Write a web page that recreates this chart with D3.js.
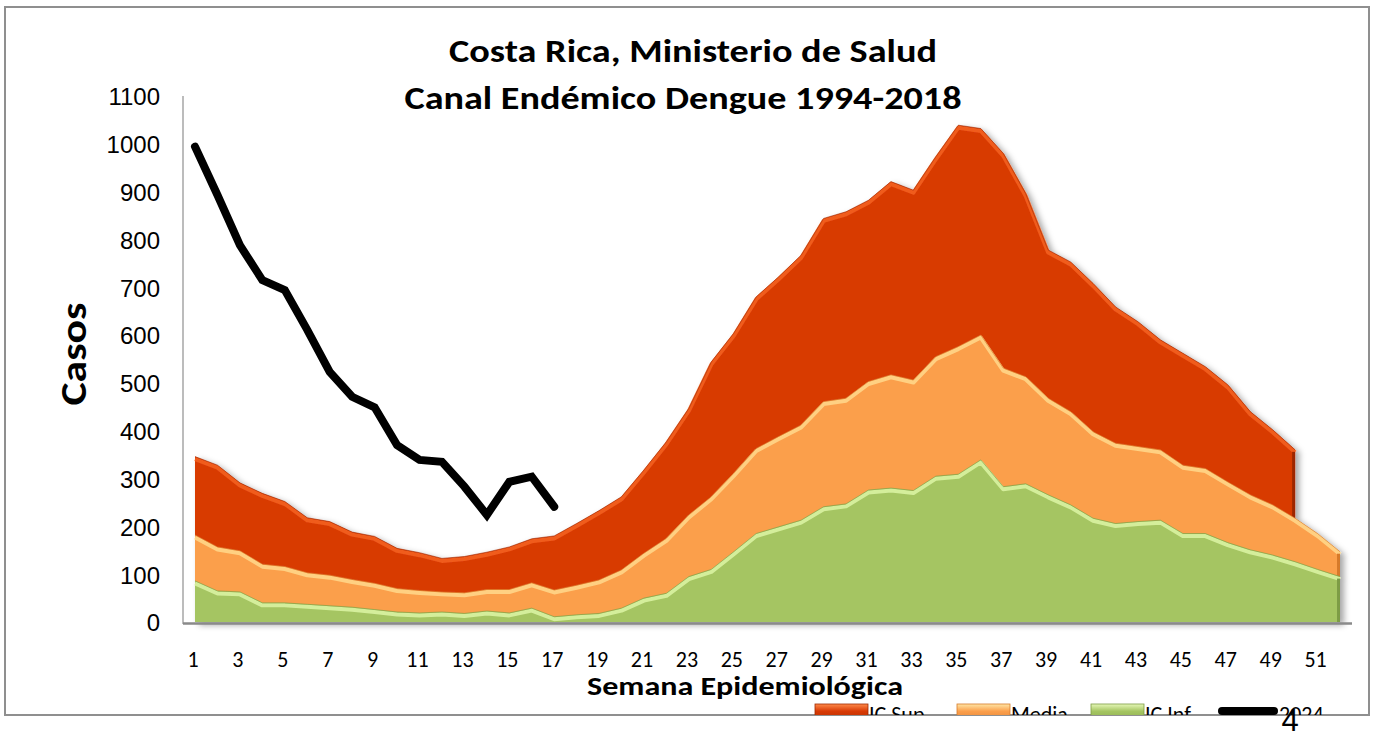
<!DOCTYPE html>
<meta charset="utf-8">
<head>
<title>Canal Endémico Dengue</title>
<script src="https://d3js.org/d3.v7.min.js"></script>
<style>
  body { margin: 0; background: #ffffff; }
  svg text { font-family: Carlito, Calibri, Lato, sans-serif; fill: #000; }
  .ytick { font-family: "Liberation Sans", Arial, sans-serif; font-size: 24px; }
</style>
</head>
<body>
<svg id="chart" width="1375" height="731"></svg>
<script>
// semanas epidemiologicas
var weeks = d3.range(1, 53);
var xLabels = d3.range(1, 52, 2);
var yTicks = d3.range(0, 1101, 100);

// canal endemico 1994-2018
var icSup = [346, 328, 291, 269, 252, 218, 210, 188, 179, 154, 145, 133, 137, 146, 157, 174, 180, 206, 233, 262,
             318, 377, 447, 544, 604, 680, 722, 767, 844, 858, 882, 921, 903, 973, 1039, 1032, 980, 896, 778, 753,
             708, 659, 628, 590, 562, 534, 496, 440, 402, 360];
var media = [182, 157, 149, 121, 116, 103, 98, 89, 81, 70, 66, 63, 61, 68, 68, 82, 67, 77, 88, 109,
             144, 175, 224, 262, 311, 363, 388, 412, 461, 468, 503, 517, 506, 555, 576, 600, 531, 513, 468, 440,
             398, 374, 367, 360, 328, 321, 293, 266, 245, 217, 185, 147];
var icInf = [86, 65, 63, 40, 40, 37, 34, 31, 26, 21, 19, 21, 18, 23, 19, 29, 11, 15, 18, 29,
             50, 60, 95, 110, 147, 185, 199, 213, 241, 247, 276, 280, 275, 305, 309, 339, 283, 289, 266, 245,
             217, 206, 210, 213, 185, 185, 166, 151, 140, 126, 110, 95];
// casos 2024
var casos2024 = [994, 893, 788, 715, 694, 611, 523, 471, 449, 370, 339, 335, 283, 224, 293, 304, 241];

var series = [
  {name: "IC Sup", values: icSup, fill: "#d83a05", light: "#f5611f", dark: "#9e2802", top: "#ff8a4a", bot: "#b83000"},
  {name: "Media", values: media, fill: "#fb9f4b", light: "#ffd88c", dark: "#d67a2a", top: "#ffe6a6", bot: "#e8883a"},
  {name: "IC Inf", values: icInf, fill: "#a5c562", light: "#dcf4a6", dark: "#7d9c44", top: "#e6f8b8", bot: "#8fb050"}
];

var svg = d3.select("#chart");

var x = d3.scaleLinear().domain([1, 52]).range([195, 1340]);
var y = d3.scaleLinear().domain([0, 1100]).range([622, 96]);

var defs = svg.append("defs");
var shadow = defs.append("filter").attr("id", "sombra")
  .attr("x", "-5%").attr("y", "-5%").attr("width", "115%").attr("height", "115%");
shadow.append("feDropShadow").attr("dx", 4).attr("dy", 3).attr("stdDeviation", 3)
  .attr("flood-color", "#000").attr("flood-opacity", 0.35);

defs.append("clipPath").attr("id", "marco")
  .append("rect").attr("x", 0).attr("y", 0).attr("width", 1369).attr("height", 715);

series.forEach(function(s, i) {
  var g = defs.append("linearGradient").attr("id", "grad" + i)
    .attr("x1", 0).attr("y1", 0).attr("x2", 0).attr("y2", 1);
  g.append("stop").attr("offset", "0%").attr("stop-color", s.top);
  g.append("stop").attr("offset", "45%").attr("stop-color", s.fill);
  g.append("stop").attr("offset", "100%").attr("stop-color", s.bot);
});

// marco
svg.append("rect")
  .attr("x", 5).attr("y", 7).attr("width", 1364).attr("height", 708)
  .attr("fill", "none").attr("stroke", "#8f8f8f").attr("stroke-width", 2);

// titulo
svg.append("text").attr("x", 693).attr("y", 62).attr("text-anchor", "middle")
  .attr("textLength", 488).attr("lengthAdjust", "spacingAndGlyphs")
  .style("font-size", "33px").style("font-weight", "bold")
  .text("Costa Rica, Ministerio de Salud");
svg.append("text").attr("x", 683).attr("y", 109).attr("text-anchor", "middle")
  .attr("textLength", 557).attr("lengthAdjust", "spacingAndGlyphs")
  .style("font-size", "33px").style("font-weight", "bold")
  .text("Canal Endémico Dengue 1994-2018");

// eje y
svg.append("g").selectAll("text")
  .data(yTicks)
  .enter().append("text")
  .attr("class", "ytick")
  .attr("x", 160)
  .attr("y", function(d) { return y(d) + 1; })
  .attr("dy", "0.35em")
  .attr("text-anchor", "end")
  .text(function(d) { return d; });

svg.append("line")
  .attr("x1", 183).attr("x2", 183).attr("y1", y(1100)).attr("y2", y(0) + 2)
  .attr("stroke", "#a6a6a6").attr("stroke-width", 1.5);

svg.append("text")
  .attr("transform", "translate(86,354) rotate(-90)")
  .attr("text-anchor", "middle")
  .attr("textLength", 103).attr("lengthAdjust", "spacingAndGlyphs")
  .style("font-size", "36px").style("font-weight", "bold")
  .text("Casos");

// areas
var areas = svg.append("g").attr("filter", "url(#sombra)");

series.forEach(function(s, i) {
  var pts = s.values.map(function(v, j) { return {w: weeks[j], v: v}; });
  var area = d3.area()
    .x(function(d) { return x(d.w); })
    .y0(y(0))
    .y1(function(d) { return y(d.v); });
  var line = d3.line()
    .x(function(d) { return x(d.w); })
    .y(function(d) { return y(d.v); });

  areas.append("path").datum(pts)
    .attr("d", area)
    .attr("fill", s.fill);

  // bisel superior
  areas.append("path").datum(pts)
    .attr("d", line)
    .attr("transform", "translate(0,2.5)")
    .attr("fill", "none")
    .attr("stroke", s.light)
    .attr("stroke-width", 4)
    .attr("stroke-linejoin", "round")
    .attr("opacity", 0.85);
  areas.append("path").datum(pts)
    .attr("d", line)
    .attr("fill", "none")
    .attr("stroke", s.dark)
    .attr("stroke-width", 1)
    .attr("opacity", 0.6);

  // borde derecho oscuro
  var last = pts[pts.length - 1];
  areas.append("line")
    .attr("x1", x(last.w) - 1.5).attr("x2", x(last.w) - 1.5)
    .attr("y1", y(last.v) + 2).attr("y2", y(0))
    .attr("stroke", s.dark).attr("stroke-width", 3);
});

// piso
svg.append("line")
  .attr("x1", 183).attr("x2", 1352).attr("y1", y(0) + 1.5).attr("y2", y(0) + 1.5)
  .attr("stroke", "#8a8a8a").attr("stroke-width", 2.5);

// linea 2024
var linea = d3.line()
  .x(function(d, i) { return x(weeks[i]); })
  .y(function(d) { return y(d); });
svg.append("path").datum(casos2024)
  .attr("d", linea)
  .attr("fill", "none")
  .attr("stroke", "#000")
  .attr("stroke-width", 8)
  .attr("stroke-linecap", "round")
  .attr("stroke-linejoin", "miter");

// eje x
svg.append("g").selectAll("text")
  .data(xLabels)
  .enter().append("text")
  .attr("x", function(d) { return x(d) - 2; })
  .attr("y", 667)
  .attr("text-anchor", "middle")
  .style("font-size", "22px")
  .text(function(d) { return d; });

svg.append("text").attr("x", 745).attr("y", 695).attr("text-anchor", "middle")
  .attr("textLength", 316).attr("lengthAdjust", "spacingAndGlyphs")
  .style("font-size", "27px").style("font-weight", "bold")
  .text("Semana Epidemiológica");

// leyenda (cortada por el marco)
var leyenda = svg.append("g").attr("clip-path", "url(#marco)");
var legX = [815, 957, 1091];
series.forEach(function(s, i) {
  leyenda.append("rect")
    .attr("x", legX[i]).attr("y", 704).attr("width", 53).attr("height", 16)
    .attr("fill", "url(#grad" + i + ")")
    .attr("stroke", s.dark).attr("stroke-width", 0.8);
  leyenda.append("text")
    .attr("x", legX[i] + 54).attr("y", 722)
    .style("font-size", "22px")
    .text(s.name);
});
leyenda.append("line")
  .attr("x1", 1222).attr("x2", 1274).attr("y1", 711).attr("y2", 711)
  .attr("stroke", "#000").attr("stroke-width", 8).attr("stroke-linecap", "round");
leyenda.append("text")
  .attr("x", 1279).attr("y", 722)
  .style("font-size", "22px")
  .text("2024");

// numero de pagina
svg.append("text").attr("x", 1290).attr("y", 731).attr("text-anchor", "middle")
  .style("font-family", "'Liberation Sans', Arial, sans-serif")
  .style("font-size", "31px")
  .text("4");
</script>
</body>
